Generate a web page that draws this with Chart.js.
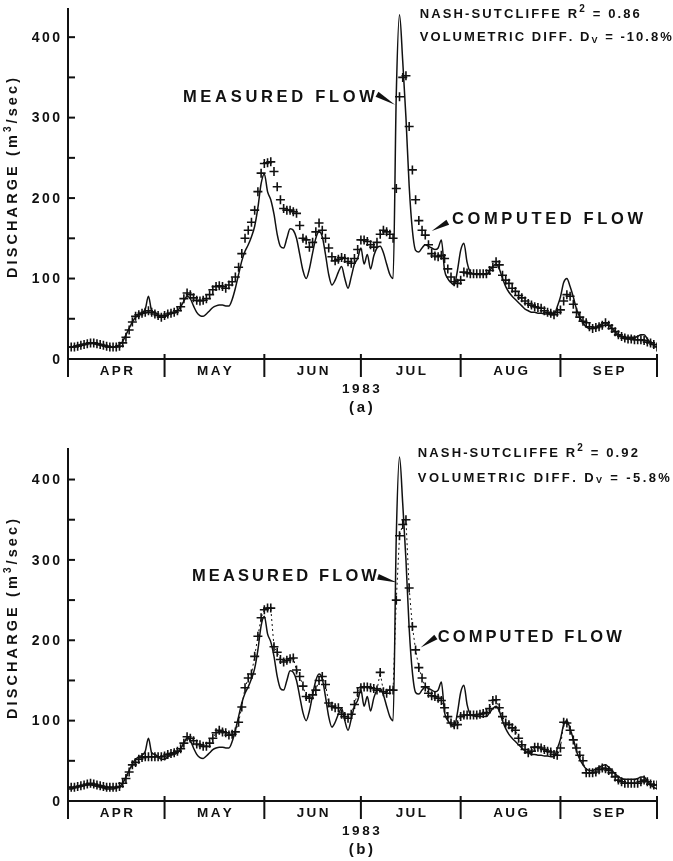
<!DOCTYPE html>
<html>
<head>
<meta charset="utf-8">
<script src="https://cdn.jsdelivr.net/npm/chart.js@4.4.1/dist/chart.umd.min.js"></script>
<style>
  body { margin: 0; background: #fff; }
  #wrap { position: relative; width: 673px; height: 861px; }
  canvas { position: absolute; left: 0; }
</style>
</head>
<body>
<div id="wrap">
  <canvas id="chartA" width="673" height="420" style="top:0"></canvas>
  <canvas id="chartB" width="673" height="441" style="top:420px"></canvas>
</div>
<script>
// months of 1983 on the x axis (day 0 = 1 April)
var months = ['APR', 'MAY', 'JUN', 'JUL', 'AUG', 'SEP'];
var monthStart = [0, 30, 61, 91, 122, 153, 183];
var yTickLabels = [0, 100, 200, 300, 400];
var yMinorTicks = [50, 150, 250, 350];

// measured daily discharge, m3/sec (solid line, same in both panels)
var measuredFlow = [
  15, 15, 16, 17, 18, 19, 20, 20, 19, 18,
  17, 16, 15, 15, 15, 16, 18, 22, 30, 38,
  46, 52, 55, 57, 62, 78, 60, 58, 55, 52,
  52, 55, 57, 58, 60, 65, 72, 78, 75, 66,
  58, 54, 53, 56, 60, 64, 66, 67, 67, 66,
  66, 74, 88, 105, 122, 134, 142, 152, 165, 188,
  218, 230, 208, 198, 180, 155, 140, 138, 150, 162,
  160, 150, 130, 110, 100, 112, 132, 150, 158, 152,
  130, 105, 92, 98, 108, 115, 100, 88, 102, 118,
  125, 138, 118, 130, 112, 128, 138, 140, 132, 118,
  105, 100, 330, 428, 370, 300, 215, 160, 135, 133,
  138, 142, 140, 138, 136, 138, 148, 110, 100, 95,
  92, 110, 135, 144, 120, 108, 106, 105, 105, 105,
  105, 110, 115, 118, 112, 100, 90, 83, 78, 74,
  70, 66, 62, 60, 58, 58, 57, 57, 56, 56,
  55, 55, 65, 77, 95, 100, 90, 77, 62, 52,
  45, 40, 38, 38, 40, 42, 44, 45, 42, 38,
  34, 30, 28, 27, 27, 27, 27, 28, 30, 30,
  25, 20, 17, 15
];

// computed daily discharge, panel (a)
var computedA = [
  15, 15, 15, 16, 17, 18, 19, 20, 20, 19,
  18, 17, 16, 15, 15, 15, 16, 20, 27, 36,
  46, 53, 55, 57, 58, 60, 58, 56, 54, 52,
  54, 56, 57, 58, 60, 65, 75, 82, 80, 76,
  73, 72, 73, 75, 80, 86, 90, 91, 90, 88,
  92, 96, 102, 114, 131, 150, 160, 170, 185, 208,
  231, 243, 244, 245, 233, 214, 198, 187, 185, 185,
  183, 181, 166, 150, 148, 139, 145, 158, 169, 160,
  150, 138, 127, 122, 124, 126, 125, 121, 119, 125,
  136, 148, 148, 146, 142, 139, 145, 155, 160, 158,
  155, 150, 212, 326, 350, 352, 289, 235, 198, 172,
  160, 154, 142, 131, 128, 127, 129, 125, 112, 102,
  96, 94, 98, 108, 107, 106, 106, 106, 106, 106,
  106, 110, 114, 121, 117, 104, 98, 94, 88, 84,
  79, 76, 72, 69, 67, 65, 64, 63, 60, 58,
  57, 55, 58, 61, 72, 80, 78, 68, 58, 52,
  47, 45, 40, 38, 39, 40, 42, 45, 42, 38,
  34, 30, 28, 26, 25, 25, 24, 24, 24, 23,
  21, 20, 18, 15
];

// computed daily discharge, panel (b)
var computedB = [
  17, 17, 17, 18, 19, 20, 21, 22, 21, 20,
  19, 18, 17, 17, 17, 17, 18, 22, 28, 36,
  45, 48, 52, 54, 55, 55, 55, 55, 55, 55,
  56, 58, 59, 60, 62, 65, 72, 80, 78, 75,
  71, 70, 68, 68, 72, 78, 85, 88, 86, 85,
  82, 83, 86, 98, 117, 141, 153, 158, 180, 205,
  228, 238, 240, 240, 192, 185, 176, 173, 175, 177,
  178, 163, 155, 143, 130, 128, 132, 138, 150, 155,
  145, 122, 118, 116, 116, 108, 105, 103, 108, 120,
  135, 141, 142, 142, 141, 140, 138, 160, 136, 134,
  138, 138, 250, 330, 344, 350, 265, 217, 188, 166,
  153, 142, 134, 131, 130, 128, 125, 116, 105, 97,
  95, 95, 105, 107, 107, 107, 107, 107, 108, 109,
  110, 115, 125, 126, 116, 105, 97, 95, 91, 88,
  78, 70, 64, 60, 62, 67, 67, 66, 64, 62,
  61, 58, 57, 66, 98, 97, 88, 76, 66, 57,
  50, 35, 35, 35, 36, 39, 41, 40, 38, 35,
  30, 26, 24, 22, 22, 22, 22, 22, 24, 26,
  24, 21, 20, 20
];

var ink = '#111';
var face = '"Liberation Sans", Arial, sans-serif';

function bold(size) { return 'bold ' + size + 'px ' + face; }

// draw text char by char so letter spacing works everywhere
function drawRuns(ctx, parts, x, y, ls, align) {
  var total = 0, n = 0;
  parts.forEach(function (p) {
    ctx.font = p.font;
    for (var i = 0; i < p.t.length; i++) { total += ctx.measureText(p.t[i]).width; n++; }
  });
  total += ls * (n - 1);
  var cx = align === 'center' ? x - total / 2 : align === 'right' ? x - total : x;
  ctx.textAlign = 'left';
  ctx.textBaseline = 'middle';
  parts.forEach(function (p) {
    ctx.font = p.font;
    for (var i = 0; i < p.t.length; i++) {
      ctx.fillText(p.t[i], cx, y + (p.dy || 0));
      cx += ctx.measureText(p.t[i]).width + ls;
    }
  });
}

function fitRuns(ctx, parts, x, y, width, align) {
  var nat = 0, n = 0;
  parts.forEach(function (p) {
    ctx.font = p.font;
    for (var i = 0; i < p.t.length; i++) { nat += ctx.measureText(p.t[i]).width; n++; }
  });
  drawRuns(ctx, parts, x, y, (width - nat) / (n - 1), align);
}

function wedge(ctx, x1, y1, x2, y2) {
  var a = Math.atan2(y2 - y1, x2 - x1), h = 2.8;
  ctx.beginPath();
  ctx.moveTo(x1 + Math.sin(a) * h, y1 - Math.cos(a) * h);
  ctx.lineTo(x2, y2);
  ctx.lineTo(x1 - Math.sin(a) * h, y1 + Math.cos(a) * h);
  ctx.closePath();
  ctx.fill();
}

function makeOverlay(p) {
  return {
    id: 'overlay',
    afterDraw: function (chart) {
      var ctx = chart.ctx, xs = chart.scales.x, ys = chart.scales.y, area = chart.chartArea;
      var X = function (d) { return xs.getPixelForValue(d); };
      var Y = function (v) { return ys.getPixelForValue(v); };
      ctx.save();
      ctx.fillStyle = ink;
      ctx.strokeStyle = ink;
      ctx.lineWidth = 2;

      // inward y ticks
      yTickLabels.concat(yMinorTicks).forEach(function (v) {
        ctx.beginPath();
        ctx.moveTo(area.left, Y(v));
        ctx.lineTo(area.left + 7, Y(v));
        ctx.stroke();
      });
      yTickLabels.forEach(function (v) {
        drawRuns(ctx, [{ t: String(v), font: bold(14) }], area.left - 8, Y(v) + 1, 2.4, 'right');
      });

      // month boundaries and names
      monthStart.forEach(function (d) {
        ctx.beginPath();
        ctx.moveTo(X(d), area.bottom - 5);
        ctx.lineTo(X(d), area.bottom + 18);
        ctx.stroke();
      });
      months.forEach(function (m, i) {
        drawRuns(ctx, [{ t: m, font: bold(13.5) }], X((monthStart[i] + monthStart[i + 1]) / 2), area.bottom + 12, 2.4, 'center');
      });
      drawRuns(ctx, [{ t: '1983', font: bold(13.5) }], X(91), area.bottom + 30, 2.6, 'center');
      drawRuns(ctx, [{ t: p.tag, font: bold(15) }], X(91), area.bottom + 49, 2.6, 'center');

      // y axis title
      ctx.save();
      ctx.translate(13, (area.top + area.bottom) / 2 - 6);
      ctx.rotate(-Math.PI / 2);
      fitRuns(ctx, [
        { t: 'DISCHARGE (m', font: bold(14.5) },
        { t: '3', font: bold(10), dy: -5 },
        { t: '/sec)', font: bold(14.5) }
      ], 0, 0, 200, 'center');
      ctx.restore();

      // statistics
      fitRuns(ctx, [
        { t: 'NASH-SUTCLIFFE R', font: bold(13) },
        { t: '2', font: bold(10), dy: -5 },
        { t: ' = ' + p.r2, font: bold(13) }
      ], X(p.statsDay), Y(p.statsV[0]), 220, 'left');
      fitRuns(ctx, [
        { t: 'VOLUMETRIC DIFF. D', font: bold(13) },
        { t: 'V', font: bold(9), dy: 3 },
        { t: ' = ' + p.dv, font: bold(13) }
      ], X(p.statsDay), Y(p.statsV[1]), 252, 'left');

      // labels with arrows
      fitRuns(ctx, [{ t: 'MEASURED FLOW', font: bold(16.5) }], X(p.meas.day), Y(p.meas.v), p.meas.w, 'left');
      wedge(ctx, X(p.meas.from[0]), Y(p.meas.from[1]), X(p.meas.to[0]), Y(p.meas.to[1]));
      fitRuns(ctx, [{ t: 'COMPUTED FLOW', font: bold(16.5) }], X(p.comp.day), Y(p.comp.v), p.comp.w, 'left');
      wedge(ctx, X(p.comp.from[0]), Y(p.comp.from[1]), X(p.comp.to[0]), Y(p.comp.to[1]));

      ctx.restore();
    }
  };
}

function panel(id, computed, p) {
  var days = measuredFlow.map(function (_, i) { return i; });
  return new Chart(document.getElementById(id), {
    type: 'line',
    data: {
      datasets: [
        {
          label: 'Measured flow',
          data: days.map(function (d) { return { x: d, y: measuredFlow[d] }; }),
          borderColor: ink,
          borderWidth: 1.5,
          pointRadius: 0,
          cubicInterpolationMode: 'monotone',
          fill: false
        },
        {
          label: 'Computed flow',
          data: days.map(function (d) { return { x: d, y: computed[d] }; }),
          showLine: p.dotted,
          borderColor: ink,
          borderWidth: 1,
          borderDash: [2, 3],
          pointStyle: 'cross',
          pointRadius: 4.5,
          pointBorderWidth: 1.6,
          pointBorderColor: ink,
          fill: false
        }
      ]
    },
    options: {
      responsive: false,
      animation: false,
      devicePixelRatio: 1,
      layout: { padding: { left: 0, right: 16, top: p.top, bottom: 0 } },
      plugins: { legend: { display: false }, tooltip: { enabled: false } },
      scales: {
        x: {
          type: 'linear', min: 0, max: 183,
          ticks: { display: false },
          grid: { display: false, drawTicks: false },
          border: { display: true, width: 2, color: ink },
          afterFit: function (s) { s.height = p.xH; }
        },
        y: {
          min: 0, max: p.yMax,
          ticks: { display: false },
          grid: { display: false, drawTicks: false },
          border: { display: true, width: 2, color: ink },
          afterFit: function (s) { s.width = 68; }
        }
      }
    },
    plugins: [makeOverlay(p)]
  });
}

panel('chartA', computedA, {
  tag: '(a)', top: 9, xH: 61, yMax: 435, dotted: false,
  r2: '0.86', dv: '-10.8%', statsDay: 109.3, statsV: [428, 400],
  meas: { day: 35.7, v: 325, w: 192, from: [96, 329], to: [101.6, 316] },
  comp: { day: 119.3, v: 173, w: 191, from: [118, 170], to: [113, 159] }
});

panel('chartB', computedB, {
  tag: '(b)', top: 29, xH: 60, yMax: 438, dotted: true,
  r2: '0.92', dv: '-5.8%', statsDay: 108.7, statsV: [433, 402],
  meas: { day: 38.5, v: 279, w: 185, from: [96.3, 279], to: [102.2, 272] },
  comp: { day: 114.9, v: 204, w: 184, from: [114.3, 204], to: [109.6, 191] }
});
</script>
</body>
</html>
